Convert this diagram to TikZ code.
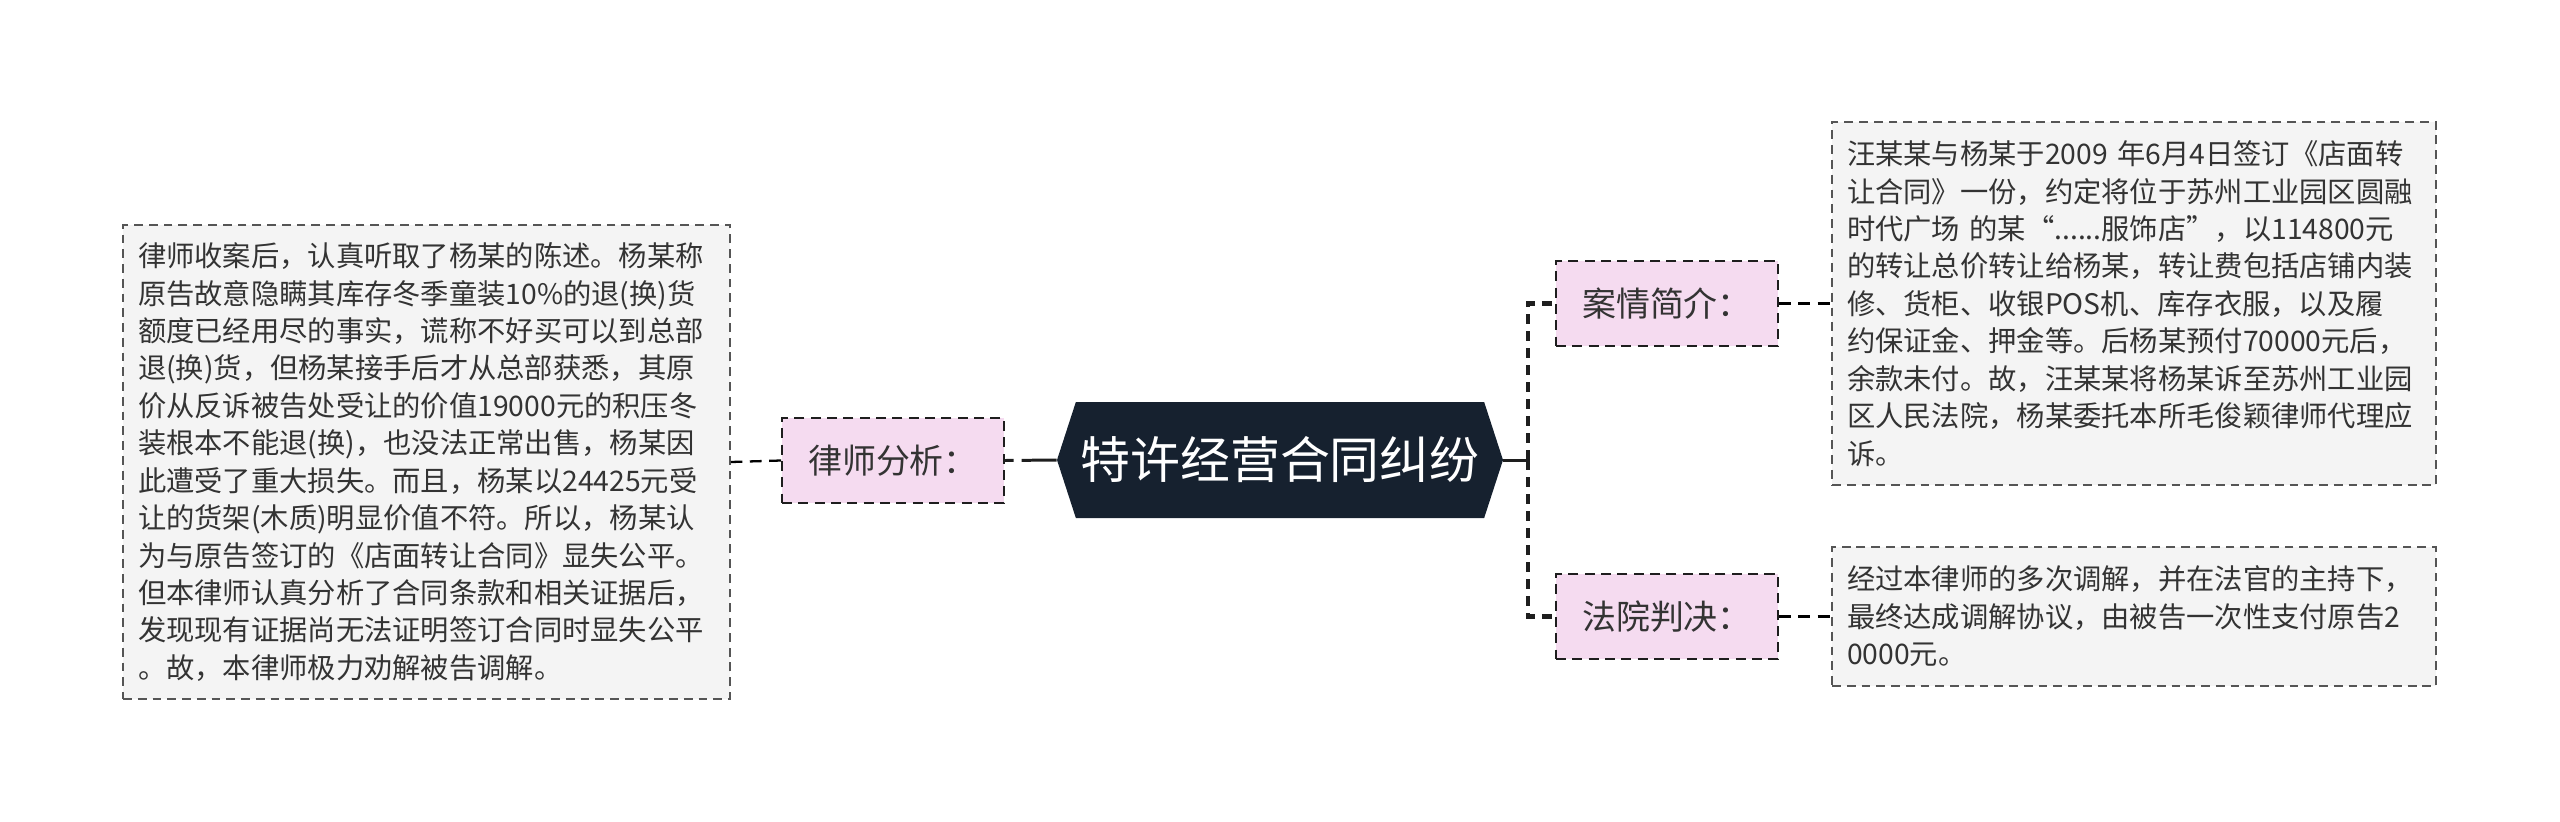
\documentclass[tikz,border=0pt]{standalone}
\usepackage{fontspec}
\setmainfont{Noto Sans CJK SC}
\usetikzlibrary{shapes.symbols}

\definecolor{hubnavy}{HTML}{16212F}
\definecolor{tagpink}{HTML}{F5DBF0}
\definecolor{tagline}{HTML}{1E1E1E}
\definecolor{notefill}{HTML}{F4F4F4}
\definecolor{noteline}{HTML}{555555}
\definecolor{inktext}{HTML}{333333}

\begin{document}
\begin{tikzpicture}[
    font=\fontsize{16.1}{21.3}\selectfont, text=inktext,
    hub/.style={signal, signal to=east and west, signal pointer angle=144,
                fill=hubnavy, text=white, inner xsep=0pt,
                minimum width=8.92cm, minimum height=2.32cm,
                font=\fontsize{28.4}{34}\selectfont},
    tag/.style={draw=tagline, fill=tagpink, line width=1.1pt,
                dash pattern=on 5.7pt off 3.6pt,
                minimum width=4.44cm, minimum height=1.70cm,
                font=\fontsize{19.3}{23}\selectfont},
    note/.style={draw=noteline, fill=notefill, line width=0.9pt,
                 dash pattern=on 5pt off 3.4pt, align=left,
                 inner xsep=0.3cm},
    stem/.style={draw=tagline, line width=1.7pt},
    fork/.style={draw=tagline, line width=2.3pt, dash pattern=on 5.7pt off 4pt},
    twig/.style={draw=black, line width=1.3pt, dash pattern=on 6.8pt off 4.2pt},
]
\useasboundingbox (0,0) rectangle (51.2,-16.42);

% Centre topic
\node[hub] (hub) at (25.6, -9.2) {特许经营合同纠纷};

% Left branch
\node[tag] (analysis) at (17.86, -9.21) {律师分析：};
\node[note, text width=11.54cm, minimum height=9.48cm] (lawyer) at (8.53, -9.24) {%
    律师收案后，认真听取了杨某的陈述。杨某称\\
    原告故意隐瞒其库存冬季童装10\%的退(换)货\\
    额度已经用尽的事实，谎称不好买可以到总部\\
    退(换)货，但杨某接手后才从总部获悉，其原\\
    价从反诉被告处受让的价值19000元的积压冬\\
    装根本不能退(换)，也没法正常出售，杨某因\\
    此遭受了重大损失。而且，杨某以24425元受\\
    让的货架(木质)明显价值不符。所以，杨某认\\
    为与原告签订的《店面转让合同》显失公平。\\
    但本律师认真分析了合同条款和相关证据后，\\
    发现现有证据尚无法证明签订合同时显失公平\\
    。故，本律师极力劝解被告调解。
};

% Right branches
\node[tag] (case) at (33.34, -6.07) {案情简介：};
\node[tag] (verdict) at (33.34, -12.33) {法院判决：};
\node[note, text width=11.48cm, minimum height=7.26cm] (facts) at (42.68, -6.07) {%
    汪某某与杨某于2009 年6月4日签订《店面转\\
    让合同》一份，约定将位于苏州工业园区圆融\\
    时代广场 的某“......服饰店”，以114800元\\
    的转让总价转让给杨某，转让费包括店铺内装\\
    修、货柜、收银POS机、库存衣服，以及履\\
    约保证金、押金等。后杨某预付70000元后，\\
    余款未付。故，汪某某将杨某诉至苏州工业园\\
    区人民法院，杨某委托本所毛俊颖律师代理应\\
    诉。
};
\node[note, text width=11.48cm, minimum height=2.78cm] (ruling) at (42.68, -12.33) {%
    经过本律师的多次调解，并在法官的主持下，\\
    最终达成调解协议，由被告一次性支付原告2\\
    0000元。
};

% Connectors
\coordinate (split) at (30.56, -9.2);
\draw[stem] (hub.east) -- (split);
\draw[fork] (split) |- (case.west);
\draw[fork] (split) |- (verdict.west);
\draw[stem, dash pattern=on 0.7cm off 0.16cm] (hub.west) -- (analysis.east);
\draw[twig] (analysis.west) -- (lawyer.east);
\draw[twig] (case.east) -- (facts.west);
\draw[twig] (verdict.east) -- (ruling.west);
\end{tikzpicture}
\end{document}
